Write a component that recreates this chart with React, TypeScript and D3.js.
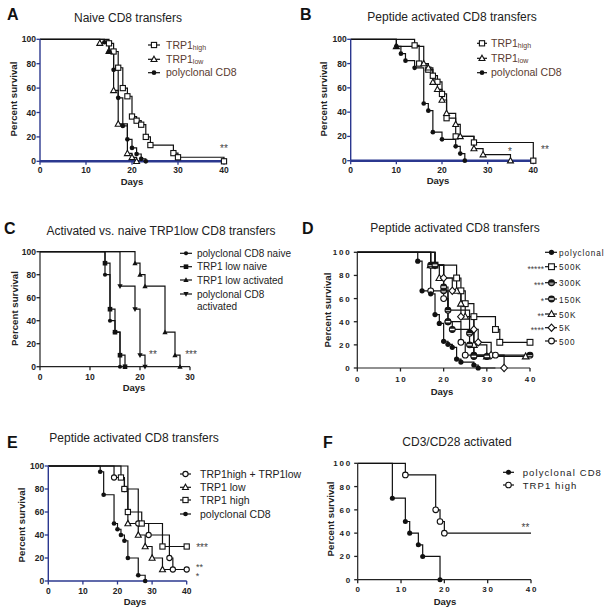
import React from 'react';
import * as d3 from 'd3';

type Ev = [number, number];

const FONT = "Arial, 'Liberation Sans', Helvetica, sans-serif";
const BLUE = '#2b388f';

// ---------- Data ----------
const yTicks = [0, 20, 40, 60, 80, 100];
const days40 = [0, 10, 20, 30, 40];
const days30 = [0, 10, 20, 30];

// Panel A: Naive CD8 transfers
const aHigh: Ev[] = [[15, 96.7], [16, 90], [17, 76.7], [18, 60], [19, 53.3], [20, 36.7], [21, 33.3], [22, 30], [23, 20], [24, 13.3], [29, 6.7], [30, 3.3], [40, 0]];
const aLow: Ev[] = [[13, 96.8], [15, 90.3], [16, 58.1], [17, 30.6], [19, 6.5], [20, 3.2], [21, 0]];
const aPoly: Ev[] = [[14, 97.6], [15, 90], [16, 75], [17, 52], [18, 29], [19, 18], [20, 11], [21, 6], [22, 2], [23, 0]];

// Panel B: Peptide activated CD8 transfers
const bHigh: Ev[] = [[14, 95], [15, 80], [17, 75], [18, 70], [19, 65], [20, 55], [21, 35], [23, 20], [27, 15], [40, 0]];
const bLow: Ev[] = [[10, 94.1], [16, 80], [17, 76.5], [18, 64.7], [19, 58.8], [20, 50], [21, 39], [23, 30], [24, 20], [27, 10], [29, 5], [35, 0]];
const bPoly: Ev[] = [[10, 94.1], [11, 88.2], [12, 82.4], [14, 76.5], [16, 47.1], [17, 41.2], [18, 23.5], [20, 17.6], [23, 11.8], [24, 5.9], [25, 0]];

// Panel C: Activated vs. naive TRP1low
const cPolyNaive: Ev[] = [[13, 80], [14, 40], [15, 30], [16, 0]];
const cLowNaive: Ev[] = [[13, 90], [14, 50], [15, 30], [16, 10], [17, 0]];
const cLowAct: Ev[] = [[19, 90], [20, 80], [21, 70], [25, 30], [27, 10], [28, 0]];
const cPolyAct: Ev[] = [[16, 70], [19, 50], [20, 10], [21, 0]];

// Panel D: dose series
const dPoly: Ev[] = [[14, 92.3], [15, 66.7], [17, 64.1], [18, 46.2], [19, 38.5], [20, 23.1], [21, 20.5], [22, 17.9], [23, 7.7], [24, 5.1], [27, 2.6], [28, 0]];
const d500K: Ev[] = [[18, 88.9], [23, 77.8], [24, 66.7], [25, 55.6], [27, 44.4], [32, 33.3], [33, 22.2]];
const d300K: Ev[] = [[17, 88.9], [20, 66.7], [21, 50], [26, 30], [27, 11.1]];
const d150K: Ev[] = [[18, 88.9], [20, 70], [21, 40], [22, 33.3], [26, 20], [27, 10]];
const d50K: Ev[] = [[17, 88.9], [19, 77.8], [23, 66.7], [24, 55.6], [25, 44.4], [27, 20], [30, 10]];
const d5K: Ev[] = [[18, 88.9], [20, 77.8], [22, 66.7], [24, 44.4], [27, 33.3], [28, 22.2], [31, 11.1], [34, 0]];
const d500: Ev[] = [[17, 66.7], [20, 60], [21, 40], [24, 22.2], [25, 11.1]];

// Panel E
const eBoth: Ev[] = [[19, 90], [22, 80], [26, 50], [29, 40], [35, 20], [36, 10]];
const eLow: Ev[] = [[23, 50], [26, 40], [28, 30], [30, 20], [33, 10]];
const eHigh: Ev[] = [[21, 90], [22, 80], [23, 60], [27, 50], [33, 30]];
const ePoly: Ev[] = [[15, 95], [16, 75], [19, 50], [20, 45], [21, 40], [22, 35], [23, 20], [26, 5], [28, 0]];

// Panel F
const fPoly: Ev[] = [[8, 70], [11, 50], [12, 40], [14, 30], [15, 20], [19, 0]];
const fHigh: Ev[] = [[11, 90], [18, 60], [19, 50], [20, 40]];

// ---------- Helpers ----------
function stepPoints(events: Ev[], end?: number): Ev[] {
  const pts: Ev[] = [[0, 100]];
  let prev = 100;
  for (const [t, s] of events) {
    pts.push([t, prev]);
    pts.push([t, s]);
    prev = s;
  }
  if (end !== undefined) pts.push([end, prev]);
  return pts;
}

function Marker({ type, cx, cy, s }: { type: string; cx: number; cy: number; s: number }) {
  const sw = 1.1;
  const k = '#111';
  switch (type) {
    case 'dot':
      return <circle cx={cx} cy={cy} r={s * 0.9} fill={k} />;
    case 'sqOpen':
      return <rect x={cx - s} y={cy - s} width={2 * s} height={2 * s} fill="#fff" stroke={k} strokeWidth={sw} />;
    case 'sqFill':
      return <rect x={cx - s} y={cy - s} width={2 * s} height={2 * s} fill={k} />;
    case 'triOpen':
      return <polygon points={`${cx},${cy - s * 1.2} ${cx + s * 1.15},${cy + s * 0.85} ${cx - s * 1.15},${cy + s * 0.85}`} fill="#fff" stroke={k} strokeWidth={sw} />;
    case 'triFill':
      return <polygon points={`${cx},${cy - s * 1.2} ${cx + s * 1.15},${cy + s * 0.85} ${cx - s * 1.15},${cy + s * 0.85}`} fill={k} />;
    case 'triDown':
      return <polygon points={`${cx},${cy + s * 1.2} ${cx + s * 1.15},${cy - s * 0.85} ${cx - s * 1.15},${cy - s * 0.85}`} fill={k} />;
    case 'circOpen':
      return <circle cx={cx} cy={cy} r={s} fill="#fff" stroke={k} strokeWidth={sw} />;
    case 'diaOpen':
      return <polygon points={`${cx},${cy - s * 1.25} ${cx + s * 1.15},${cy} ${cx},${cy + s * 1.25} ${cx - s * 1.15},${cy}`} fill="#fff" stroke={k} strokeWidth={sw} />;
    case 'halfTop':
      return (
        <g>
          <circle cx={cx} cy={cy} r={s} fill="#fff" stroke={k} strokeWidth={sw} />
          <path d={`M${cx - s},${cy} A${s},${s} 0 0 1 ${cx + s},${cy} Z`} fill={k} />
          <path d={`M${cx - s},${cy + s * 0.45} L${cx + s},${cy + s * 0.45}`} stroke={k} strokeWidth={0.9} />
        </g>
      );
    case 'halfBand':
      return (
        <g>
          <circle cx={cx} cy={cy} r={s} fill="#222" stroke={k} strokeWidth={sw} />
          <rect x={cx - s + 0.6} y={cy - 0.7} width={2 * s - 1.2} height={1.4} fill="#fff" />
        </g>
      );
    default:
      return null;
  }
}

interface SeriesCfg { events: Ev[]; marker: string; end?: number; endMarker?: boolean; }
interface LegendRow { label: React.ReactNode; marker: string; prefix?: string; extra?: string; }
interface PanelCfg {
  letter: { t: string; x: number; y: number };
  title: { t: string; x: number; y: number };
  box: { x0: number; x1: number; yT: number; yB: number };
  xDomain: [number, number];
  xTicks: number[];
  axisColor: string;
  xAxisW: number;
  yAxisW: number;
  xTickBase: number;
  days: { x: number; y: number };
  yLabel: { x: number; y: number };
  spaced?: boolean;
  ms: number;
  series: SeriesCfg[];
  legend: { lx1: number; lx2: number; mx: number; tx: number; ys: number[]; color: string; size: number; spacing?: number; rows: LegendRow[]; prefixX?: number };
  stars: { x: number; y: number; t: string; fs?: number }[];
}

function Panel({ c }: { c: PanelCfg }) {
  const x = d3.scaleLinear().domain(c.xDomain).range([c.box.x0, c.box.x1]);
  const y = d3.scaleLinear().domain([0, 100]).range([c.box.yB, c.box.yT]);
  const line = d3.line<Ev>().x((d) => x(d[0])).y((d) => y(d[1]));
  const tickFs = c.spaced ? 8 : 8.5;
  const ls = c.spaced ? 1.8 : 0;
  return (
    <g fontFamily={FONT}>
      <text x={c.letter.x} y={c.letter.y} fontSize={16} fontWeight="bold" fill="#111">{c.letter.t}</text>
      <text x={c.title.x} y={c.title.y} fontSize={12} textAnchor="middle" fill="#222">{c.title.t}</text>
      {c.series.map((s, i) => (
        <path key={i} d={line(stepPoints(s.events, s.end)) || ''} fill="none" stroke="#111" strokeWidth={1.2} />
      ))}
      <line x1={c.box.x0} x2={c.box.x0} y1={c.box.yT} y2={c.box.yB} stroke={c.axisColor} strokeWidth={c.yAxisW} />
      <line x1={c.box.x0} x2={c.box.x1} y1={c.box.yB} y2={c.box.yB} stroke={c.axisColor} strokeWidth={c.xAxisW} />
      {yTicks.map((t) => (
        <g key={'y' + t}>
          <line x1={c.box.x0 - 3.5} x2={c.box.x0} y1={y(t)} y2={y(t)} stroke={c.axisColor} strokeWidth={1.3} />
          <text x={c.box.x0 - 4 - ls} y={y(t) + 3} fontSize={tickFs} fontWeight="bold" textAnchor="end" fill="#222" letterSpacing={ls}>{t}</text>
        </g>
      ))}
      {c.xTicks.map((t) => (
        <g key={'x' + t}>
          <line x1={x(t)} x2={x(t)} y1={c.box.yB} y2={c.box.yB + 3.5} stroke={c.axisColor} strokeWidth={1.3} />
          <text x={x(t) + ls / 2} y={c.xTickBase} fontSize={tickFs} fontWeight="bold" textAnchor="middle" fill="#222" letterSpacing={ls}>{t}</text>
        </g>
      ))}
      <text x={c.days.x} y={c.days.y} fontSize={9.5} fontWeight="bold" textAnchor="middle" fill="#222">Days</text>
      <text transform={`translate(${c.yLabel.x},${c.yLabel.y}) rotate(-90)`} fontSize={9.7} fontWeight="bold" textAnchor="middle" fill="#222">Percent survival</text>
      {c.series.map((s, i) => (
        <g key={'m' + i}>
          {s.events.map((e, j) => (
            <Marker key={j} type={s.marker} cx={x(e[0])} cy={y(e[1])} s={c.ms} />
          ))}
          {s.endMarker && s.end !== undefined && (
            <Marker type={s.marker} cx={x(s.end)} cy={y(s.events[s.events.length - 1][1])} s={c.ms} />
          )}
        </g>
      ))}
      {c.legend.rows.map((r, i) => {
        const yy = c.legend.ys[i];
        return (
          <g key={'l' + i}>
            {r.prefix && (
              <text x={c.legend.prefixX} y={yy + 5} fontSize={8.5} textAnchor="end" fill="#444">{r.prefix}</text>
            )}
            <line x1={c.legend.lx1} x2={c.legend.lx2} y1={yy} y2={yy} stroke="#111" strokeWidth={1.2} />
            <Marker type={r.marker} cx={c.legend.mx} cy={yy} s={c.ms} />
            <text x={c.legend.tx} y={yy + 3.6} fontSize={c.legend.size} fill={c.legend.color} letterSpacing={c.legend.spacing || 0}>{r.label}</text>
            {r.extra && (
              <text x={c.legend.tx} y={yy + 15.6} fontSize={c.legend.size} fill={c.legend.color}>{r.extra}</text>
            )}
          </g>
        );
      })}
      {c.stars.map((s, i) => (
        <text key={'s' + i} x={s.x} y={s.y} fontSize={s.fs || 10} textAnchor="middle" fill="#444">{s.t}</text>
      ))}
    </g>
  );
}

const sub = (main: string, small: string) => (
  <>
    <tspan>{main}</tspan>
    <tspan fontSize={7} dy={1.5}>{small}</tspan>
  </>
);

const BROWN = '#5a3b30';

const panels: PanelCfg[] = [
  {
    letter: { t: 'A', x: 7, y: 20 },
    title: { t: 'Naive CD8 transfers', x: 128, y: 22 },
    box: { x0: 40, x1: 224, yT: 39.3, yB: 161.3 },
    xDomain: [0, 40], xTicks: days40,
    axisColor: BLUE, xAxisW: 2.4, yAxisW: 1.4,
    xTickBase: 173, days: { x: 132, y: 185 }, yLabel: { x: 16.5, y: 99 },
    ms: 2.6,
    series: [
      { events: aHigh, marker: 'sqOpen' },
      { events: aLow, marker: 'triOpen' },
      { events: aPoly, marker: 'dot' },
    ],
    legend: {
      lx1: 148, lx2: 160, mx: 154, tx: 166, ys: [45, 59.3, 72.7], color: BROWN, size: 10.5,
      rows: [
        { label: sub('TRP1', 'high'), marker: 'sqOpen' },
        { label: sub('TRP1', 'low'), marker: 'triOpen' },
        { label: 'polyclonal CD8', marker: 'dot' },
      ],
    },
    stars: [{ x: 224, y: 151.5, t: '**' }],
  },
  {
    letter: { t: 'B', x: 300, y: 20 },
    title: { t: 'Peptide activated CD8 transfers', x: 452, y: 21 },
    box: { x0: 350.7, x1: 533.3, yT: 39.3, yB: 160.7 },
    xDomain: [0, 40], xTicks: days40,
    axisColor: BLUE, xAxisW: 2.4, yAxisW: 1.4,
    xTickBase: 172.7, days: { x: 438, y: 184 }, yLabel: { x: 327, y: 99 },
    ms: 2.6,
    series: [
      { events: bHigh, marker: 'sqOpen' },
      { events: bLow, marker: 'triOpen' },
      { events: bPoly, marker: 'dot' },
    ],
    legend: {
      lx1: 477, lx2: 487, mx: 482, tx: 491, ys: [43.3, 58.3, 72.7], color: BROWN, size: 10.5,
      rows: [
        { label: sub('TRP1', 'high'), marker: 'sqOpen' },
        { label: sub('TRP1', 'low'), marker: 'triOpen' },
        { label: 'polyclonal CD8', marker: 'dot' },
      ],
    },
    stars: [{ x: 510, y: 154.5, t: '*' }, { x: 545, y: 153, t: '**' }],
  },
  {
    letter: { t: 'C', x: 4, y: 234 },
    title: { t: 'Activated vs. naive TRP1low CD8 transfers', x: 161, y: 235 },
    box: { x0: 40, x1: 190, yT: 251.7, yB: 366.7 },
    xDomain: [0, 30], xTicks: days30,
    axisColor: '#222', xAxisW: 1.2, yAxisW: 1.2,
    xTickBase: 380, days: { x: 134, y: 391 }, yLabel: { x: 17.5, y: 308.5 },
    ms: 2.3,
    series: [
      { events: cPolyNaive, marker: 'dot' },
      { events: cLowNaive, marker: 'sqFill' },
      { events: cLowAct, marker: 'triFill' },
      { events: cPolyAct, marker: 'triDown' },
    ],
    legend: {
      lx1: 180, lx2: 192, mx: 186, tx: 197, ys: [253.3, 266.7, 280, 294], color: '#222', size: 10,
      rows: [
        { label: 'polyclonal CD8 naive', marker: 'dot' },
        { label: 'TRP1 low naive', marker: 'sqFill' },
        { label: 'TRP1 low activated', marker: 'triFill' },
        { label: 'polyclonal CD8', marker: 'triDown', extra: 'activated' },
      ],
    },
    stars: [{ x: 153, y: 357.5, t: '**' }, { x: 191, y: 357.5, t: '***' }],
  },
  {
    letter: { t: 'D', x: 302, y: 234 },
    title: { t: 'Peptide activated CD8 transfers', x: 455, y: 232 },
    box: { x0: 357.3, x1: 530, yT: 252.3, yB: 368 },
    xDomain: [0, 40], xTicks: days40,
    axisColor: '#222', xAxisW: 1.2, yAxisW: 1.2,
    xTickBase: 382, days: { x: 442, y: 395 }, yLabel: { x: 331, y: 310 },
    spaced: true,
    ms: 2.9,
    series: [
      { events: d500K, marker: 'sqOpen', end: 40, endMarker: true },
      { events: d50K, marker: 'triOpen', end: 39, endMarker: true },
      { events: d5K, marker: 'diaOpen' },
      { events: d500, marker: 'circOpen', end: 32, endMarker: true },
      { events: d300K, marker: 'halfTop', end: 40, endMarker: true },
      { events: d150K, marker: 'halfBand', end: 30, endMarker: true },
      { events: dPoly, marker: 'dot', end: 32 },
    ],
    legend: {
      lx1: 545, lx2: 557, mx: 551.5, tx: 559, ys: [252.3, 266.7, 282.7, 299, 314, 327.7, 341], color: '#222', size: 8.2, spacing: 0.9,
      prefixX: 544,
      rows: [
        { label: 'polyclonal', marker: 'dot' },
        { label: '500K', marker: 'sqOpen', prefix: '*****' },
        { label: '300K', marker: 'halfTop', prefix: '***' },
        { label: '150K', marker: 'halfBand', prefix: '*' },
        { label: '50K', marker: 'triOpen', prefix: '**' },
        { label: '5K', marker: 'diaOpen', prefix: '****' },
        { label: '500', marker: 'circOpen' },
      ],
    },
    stars: [],
  },
  {
    letter: { t: 'E', x: 7, y: 448 },
    title: { t: 'Peptide activated CD8 transfers', x: 134, y: 442 },
    box: { x0: 48.3, x1: 186.7, yT: 466, yB: 581 },
    xDomain: [0, 40], xTicks: days40,
    axisColor: BLUE, xAxisW: 1.6, yAxisW: 1.4,
    xTickBase: 594, days: { x: 135, y: 605 }, yLabel: { x: 25, y: 525 },
    ms: 2.6,
    series: [
      { events: eLow, marker: 'triOpen', end: 40 },
      { events: eBoth, marker: 'circOpen', end: 40, endMarker: true },
      { events: eHigh, marker: 'sqOpen', end: 40, endMarker: true },
      { events: ePoly, marker: 'dot' },
    ],
    legend: {
      lx1: 180, lx2: 191, mx: 185.5, tx: 200, ys: [474, 487.3, 500, 514], color: '#222', size: 10.5,
      rows: [
        { label: 'TRP1high + TRP1low', marker: 'circOpen' },
        { label: 'TRP1 low', marker: 'triOpen' },
        { label: 'TRP1 high', marker: 'sqOpen' },
        { label: 'polyclonal CD8', marker: 'dot' },
      ],
    },
    stars: [{ x: 202, y: 551, t: '***' }, { x: 199.5, y: 569.5, t: '**', fs: 9 }, { x: 197.5, y: 579, t: '*', fs: 9 }],
  },
  {
    letter: { t: 'F', x: 323, y: 448 },
    title: { t: 'CD3/CD28 activated', x: 457, y: 446 },
    box: { x0: 357.7, x1: 531, yT: 463.3, yB: 579.7 },
    xDomain: [0, 40], xTicks: days40,
    axisColor: '#222', xAxisW: 1.2, yAxisW: 1.2,
    xTickBase: 592, days: { x: 445, y: 605 }, yLabel: { x: 334, y: 519 },
    spaced: true,
    ms: 2.8,
    series: [
      { events: fPoly, marker: 'dot' },
      { events: fHigh, marker: 'circOpen', end: 40 },
    ],
    legend: {
      lx1: 503, lx2: 514, mx: 508.5, tx: 522.7, ys: [472.3, 485], color: '#222', size: 9.5, spacing: 1.1,
      rows: [
        { label: 'polyclonal CD8', marker: 'dot' },
        { label: 'TRP1 high', marker: 'circOpen' },
      ],
    },
    stars: [{ x: 525.5, y: 531, t: '**' }],
  },
];

export default function App() {
  return (
    <svg width={605} height={613} style={{ position: 'absolute', left: 0, top: 0, background: '#fff' }}>
      <rect x={0} y={0} width={605} height={613} fill="#fff" />
      {panels.map((p, i) => (
        <Panel key={i} c={p} />
      ))}
    </svg>
  );
}
